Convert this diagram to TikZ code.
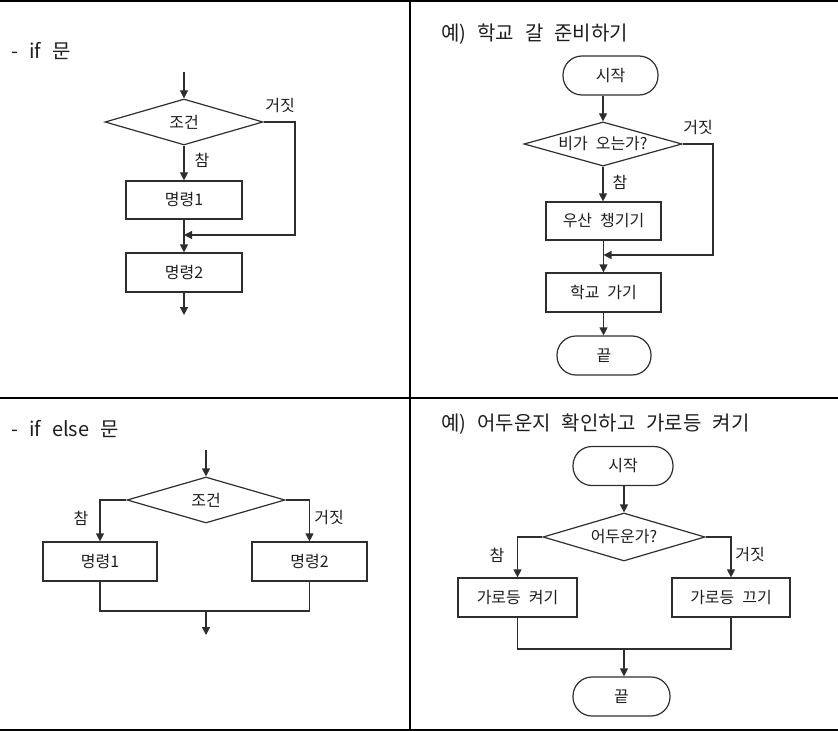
\documentclass[tikz,border=0pt]{standalone}
\usepackage{fontspec}
\setmainfont{Noto Sans CJK KR}[WordSpace=2.2]
\usetikzlibrary{arrows.meta,shapes.geometric}
\definecolor{ln}{HTML}{2E2E2E}
\definecolor{tx}{HTML}{1E1E1E}
\tikzset{
  base/.style={draw=ln, line width=1.2bp, text=tx, inner sep=0pt, font=\fontsize{16bp}{19bp}\selectfont},
  procbox/.style={base, rectangle, minimum width=#1, minimum height=38bp},
  decbox/.style={base, diamond, aspect=3, minimum width=158bp, minimum height=46bp},
  termbox/.style={base, rectangle, rounded corners=19bp, minimum width=#1, minimum height=39bp},
  lbl/.style={text=tx, inner sep=0pt, font=\fontsize{16bp}{19bp}\selectfont},
  ttl/.style={text=tx, inner sep=0pt, anchor=west, font=\fontsize{20bp}{23bp}\selectfont},
  conn/.style={draw=ln, line width=1.2bp},
  arr/.style={conn, -{Triangle[length=8bp,width=8bp]}},
  rule/.style={draw=black, line width=1.4bp}
}
\newcommand{\wsp}{\hspace{0.55em}}
\begin{document}
\begin{tikzpicture}[x=1bp,y=-1bp]
\useasboundingbox (0,0) rectangle (838,731);
% table rules
\coordinate (tl) at (0,1); \coordinate (tr) at (838,1);
\coordinate (ml) at (0,398); \coordinate (mr) at (838,398);
\coordinate (bl) at (0,730); \coordinate (br) at (838,730);
\coordinate (vt) at (410,0); \coordinate (vb) at (410,731);
\draw[rule] (tl) -- (tr);
\draw[rule] (ml) -- (mr);
\draw[rule] (bl) -- (br);
\draw[rule] (vt) -- (vb);

% ---------- Q1: if
\node[ttl] (t1) at (11,51) {-\wsp if\wsp 문};
\node[decbox] (d1) at (184,122) {조건};
\node[procbox=116bp] (b1) at (184,200) {명령1};
\node[procbox=116bp, minimum height=39bp] (b2) at (184,272.5) {명령2};
\coordinate (in1) at (184,72);
\coordinate (out1) at (184,315);
\coordinate (r1a) at (295,122);
\coordinate (r1b) at (295,235);
\coordinate (j1) at (184,235);
\draw[arr] (in1) -- (d1.north);
\draw[arr] (d1.south) -- (b1.north);
\draw[arr] (b1.south) -- (b2.north);
\draw[arr] (b2.south) -- (out1);
\draw[arr] (d1.east) -- (r1a) -- (r1b) -- (j1);
\node[lbl] (f1) at (280,106) {거짓};
\node[lbl] (y1) at (202,160) {참};

% ---------- Q2: example 1
\node[ttl] (t2) at (441,34) {예)\wsp 학교\wsp 갈\wsp 준비하기};
\node[termbox=95bp] (s1) at (610.5,75.5) {시작};
\node[decbox, minimum height=44bp] (d2) at (603,144) {비가 오는가?};
\node[procbox=115bp] (b3) at (603.5,221) {우산 챙기기};
\node[procbox=115bp, minimum height=39bp] (b4) at (603.5,292.5) {학교 가기};
\node[termbox=94bp] (e1) at (604,355.5) {끝};
\coordinate (r2a) at (713,144);
\coordinate (r2b) at (713,255);
\coordinate (j2) at (603.5,255);
\draw[arr] (s1.south -| d2.north) -- (d2.north);
\draw[arr] (d2.south) -- (b3.north -| d2.south);
\draw[arr] (b3.south) -- (b4.north);
\draw[arr] (b4.south) -- (e1.north -| b4.south);
\draw[arr] (d2.east) -- (r2a) -- (r2b) -- (j2);
\node[lbl] (f2) at (698,128) {거짓};
\node[lbl] (y2) at (620,182) {참};

% ---------- Q3: if else
\node[ttl] (t3) at (11,429) {-\wsp if\wsp else\wsp 문};
\node[decbox] (d3) at (206,500) {조건};
\node[procbox=114bp, minimum height=39bp] (b5) at (100,561.5) {명령1};
\node[procbox=115bp, minimum height=39bp] (b6) at (309.5,561.5) {명령2};
\coordinate (in3) at (206,450);
\coordinate (m3) at (206,611);
\coordinate (out3) at (206,635);
\draw[arr] (in3) -- (d3.north);
\draw[arr] (d3.west) -| (b5.north);
\draw[arr] (d3.east) -| (b6.north);
\draw[conn] (b5.south) |- (m3) -| (b6.south);
\draw[arr] (m3) -- (out3);
\node[lbl] (y3) at (81,518) {참};
\node[lbl] (f3) at (329,518) {거짓};

% ---------- Q4: example 2
\node[ttl] (t4) at (441,424) {예)\wsp 어두운지\wsp 확인하고\wsp 가로등\wsp 켜기};
\node[termbox=100bp] (s2) at (623,466) {시작};
\node[decbox, minimum width=162bp, minimum height=48bp] (d4) at (624,537) {어두운가?};
\node[procbox=119bp, minimum height=39bp] (b7) at (517.5,597.5) {가로등 켜기};
\node[procbox=118bp, minimum height=39bp] (b8) at (731,597.5) {가로등 끄기};
\node[termbox=97bp] (e2) at (621.5,696.5) {끝};
\coordinate (m4) at (624,649);
\draw[arr] (s2.south -| d4.north) -- (d4.north);
\draw[arr] (d4.west) -| (b7.north);
\draw[arr] (d4.east) -| (b8.north);
\draw[conn] (b7.south) |- (m4) -| (b8.south);
\draw[arr] (m4) -- (e2.north -| m4);
\node[lbl] (y4) at (497,555) {참};
\node[lbl] (f4) at (750,555) {거짓};
\end{tikzpicture}
\end{document}
